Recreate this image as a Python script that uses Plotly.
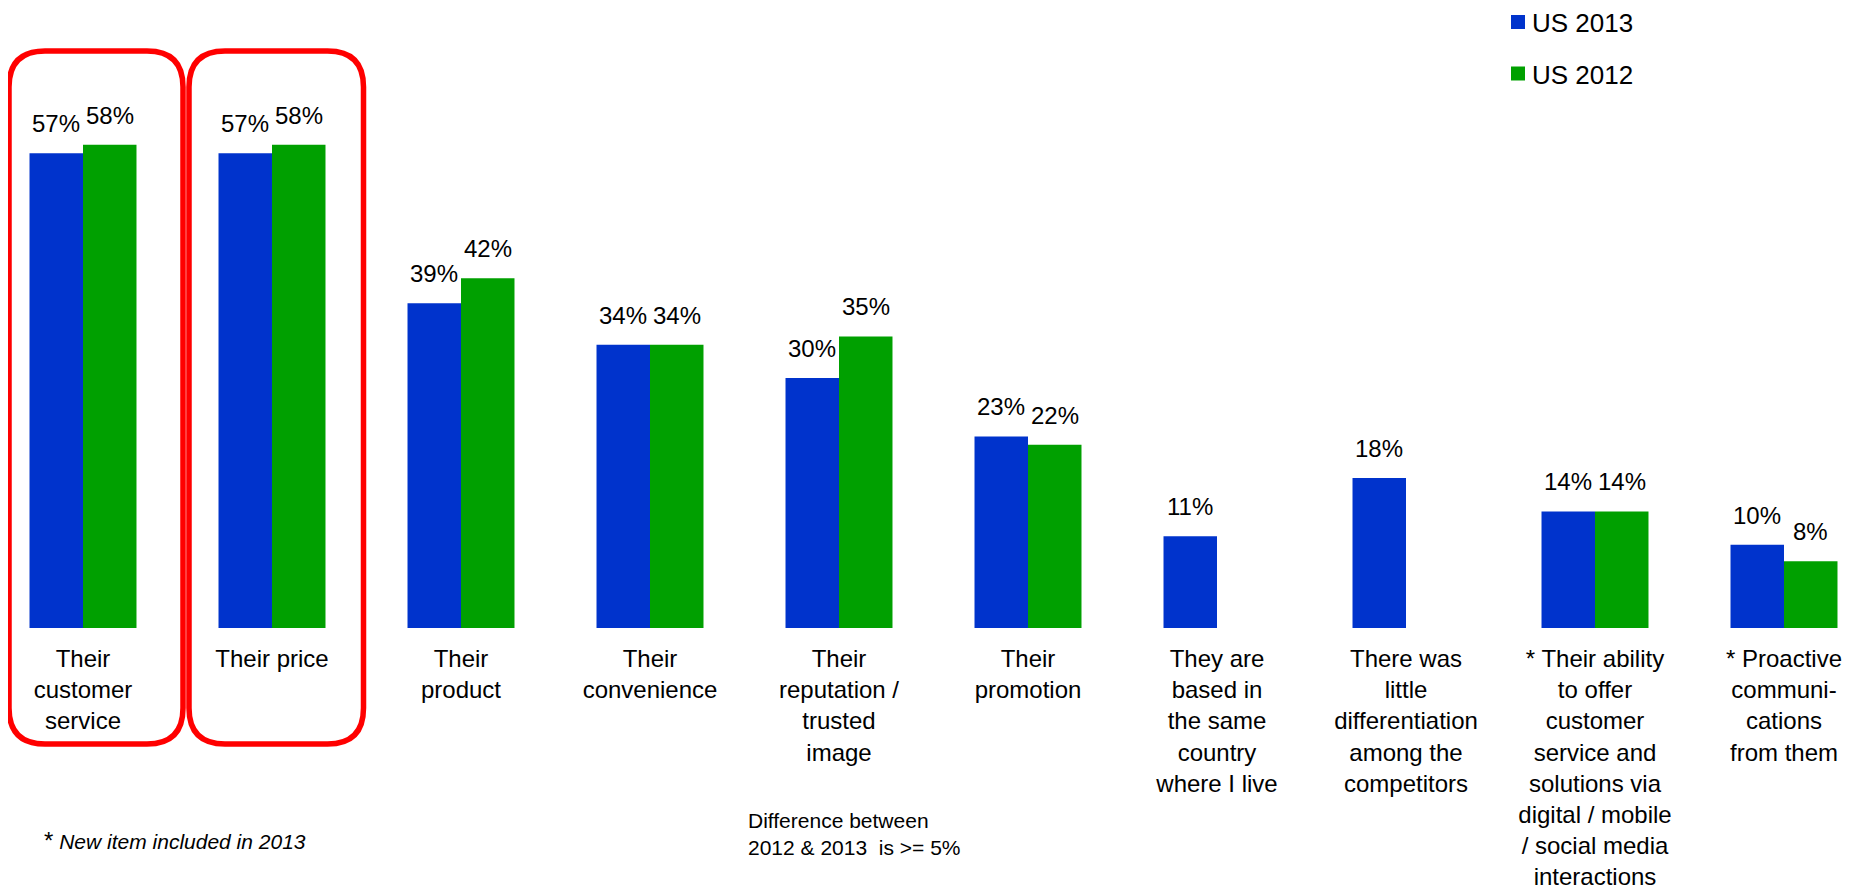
import plotly.graph_objects as go

categories = [
    "Their<br>customer<br>service",
    "Their price",
    "Their<br>product",
    "Their<br>convenience",
    "Their<br>reputation /<br>trusted<br>image",
    "Their<br>promotion",
    "They are<br>based in<br>the same<br>country<br>where I live",
    "There was<br>little<br>differentiation<br>among the<br>competitors",
    "* Their ability<br>to offer<br>customer<br>service and<br>solutions via<br>digital / mobile<br>/ social media<br>interactions",
    "* Proactive<br>communi-<br>cations<br>from them",
]
us_2013 = [57, 57, 39, 34, 30, 23, 11, 18, 14, 10]
us_2012 = [58, 58, 42, 34, 35, 22, None, None, 14, 8]
series_names = ["US 2013", "US 2012"]

BLUE = "#0033CC"
GREEN = "#00A000"
FONT = "Arial, Liberation Sans, sans-serif"

OFF = 8                      # page body margin of the html output
W, H = 1865 - OFF, 893 - OFF
T = 20                       # top margin (figure px)
BASE_PAGE = 628              # baseline row in page pixels
BASE_FIG = BASE_PAGE - OFF
PLOT_H = BASE_FIG - T
BARGAP = 0.434
half = (1 - BARGAP) / 4

idx = list(range(len(categories)))
colors = [BLUE, GREEN]

fig = go.Figure()
for name, vals, col in zip(series_names, [us_2013, us_2012], colors):
    fig.add_bar(x=idx, y=vals, name=name, marker=dict(color=col, line=dict(width=0)),
                showlegend=False)

annotations = []
for i, (a, b) in enumerate(zip(us_2013, us_2012)):
    for val, off in ((a, -half), (b, half)):
        if val is None:
            continue
        annotations.append(dict(x=i + off, y=val, xref="x", yref="y", text=f"{val}%",
                                showarrow=False, yanchor="bottom", yshift=14,
                                font=dict(size=24, color="black", family=FONT)))


def px_x(p):
    """page pixel column -> paper x"""
    return (p - OFF) / W


def px_y(p):
    """page pixel row -> paper y"""
    return (BASE_PAGE - p) / PLOT_H


annotations.append(dict(x=px_x(42), y=px_y(840), xref="paper", yref="paper", xanchor="left",
                        yanchor="middle", showarrow=False, align="left",
                        text="<span style='font-size:24px'>*</span> <i>New item included in 2013</i>",
                        font=dict(size=21, color="black", family=FONT)))
annotations.append(dict(x=px_x(746), y=px_y(834), xref="paper", yref="paper", xanchor="left",
                        yanchor="middle", showarrow=False, align="left",
                        text="Difference between<br>2012 &amp; 2013&nbsp; is &gt;= 5%",
                        font=dict(size=21, color="black", family=FONT)))


def rounded_box(x0, y0, x1, y1, r):
    rx, ry = r / W, r / PLOT_H
    X0, X1 = px_x(x0), px_x(x1)
    Yt, Yb = px_y(y0), px_y(y1)
    return (f"M {X0+rx},{Yt} L {X1-rx},{Yt} Q {X1},{Yt} {X1},{Yt-ry} "
            f"L {X1},{Yb+ry} Q {X1},{Yb} {X1-rx},{Yb} "
            f"L {X0+rx},{Yb} Q {X0},{Yb} {X0},{Yb+ry} "
            f"L {X0},{Yt-ry} Q {X0},{Yt} {X0+rx},{Yt} Z")


shapes = [
    dict(type="path", xref="paper", yref="paper", path=rounded_box(9, 51, 183, 744, 36),
         line=dict(color="#FF0000", width=5.5)),
    dict(type="path", xref="paper", yref="paper", path=rounded_box(189, 51, 363.5, 744, 36),
         line=dict(color="#FF0000", width=5.5)),
]

# legend (swatch + label per series)
legend_rows = [22.5, 74.0]
for name, col, yc in zip(series_names, colors, legend_rows):
    shapes.append(dict(type="rect", xref="paper", yref="paper",
                       x0=px_x(1511), x1=px_x(1525), y0=px_y(yc - 7.5), y1=px_y(yc + 6.5),
                       fillcolor=col, line=dict(width=0)))
    annotations.append(dict(x=px_x(1530), y=px_y(yc + 0.5), xref="paper", yref="paper",
                            xanchor="left", yanchor="middle", showarrow=False, text=name,
                            font=dict(size=26, color="black", family=FONT)))

px_per_unit = 189.0
x0 = -(83 - OFF) / px_per_unit
x1 = x0 + W / px_per_unit
y_top = PLOT_H / 8.33

fig.update_layout(
    width=W, height=H,
    margin=dict(l=0, r=0, t=T, b=H - BASE_FIG, pad=0, autoexpand=False),
    paper_bgcolor="white", plot_bgcolor="white",
    barmode="group", bargap=BARGAP, bargroupgap=0,
    font=dict(family=FONT, color="black"),
    xaxis=dict(range=[x0, x1], tickvals=idx, ticktext=categories, showgrid=False,
               zeroline=False, showline=False, ticks="", ticklabelstandoff=14,
               tickfont=dict(size=24, color="black", family=FONT), tickangle=0, fixedrange=True,
               automargin=False),
    yaxis=dict(range=[0, y_top], visible=False, fixedrange=True, automargin=False),
    showlegend=False,
    annotations=annotations,
    shapes=shapes,
)

fig.write_html("out.html")
